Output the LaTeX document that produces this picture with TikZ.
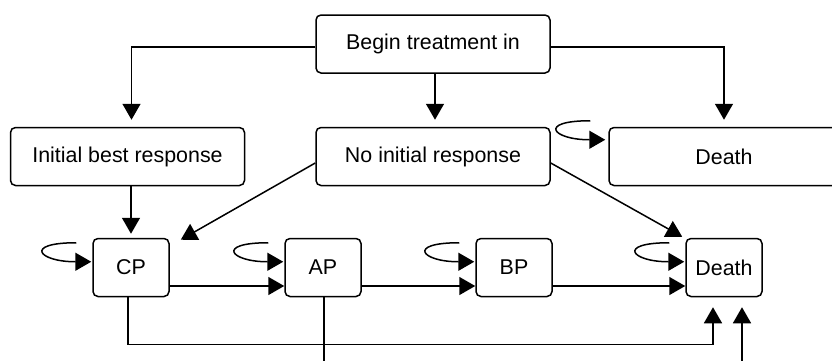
\documentclass[tikz,border=0pt]{standalone}
\usepackage{fontspec}
\setmainfont{Liberation Sans}
\usetikzlibrary{arrows.meta}

\begin{document}
\begin{tikzpicture}[x=0.5pt, y=-0.5pt, line width=0.75pt,
                    >={Triangle[length=8pt, width=9pt]},
                    every node/.style={font=\fontsize{10.7}{13}\selectfont},
                    state/.style={draw, rounded corners=2.5pt, minimum height=29pt, inner sep=0pt},
                    wide/.style={state, minimum width=117pt},
                    small/.style={state, minimum width=38pt},
                    selfloop/.style={->, looseness=1}]
  \useasboundingbox (0,0) rectangle (832,360);
  \clip (0,0) rectangle (832,360);

  \node[wide] (begin)    at (433,44)    {Begin treatment in};
  \node[wide] (init)     at (127.5,156.5) {Initial best response};
  \node[wide] (noinit)   at (433,156.5) {No initial response};
  \node[wide, minimum width=115pt] (deathtop) at (724,156.5) {Death};
  \node[small] (cp)    at (131,267.5) {CP};
  \node[small] (ap)    at (323,267.5) {AP};
  \node[small] (bp)    at (514,267.5) {BP};
  \node[small] (death) at (724,267.5) {Death};

  \coordinate (cpin)    at ([xshift=5.5pt, yshift=-1pt]cp.north east);
  \coordinate (deathin) at ([xshift=-1.5pt, yshift=0.5pt]death.north west);
  \coordinate (apout)   at ([xshift=0.5pt, yshift=-40pt]ap.south);
  \coordinate (below)   at ([xshift=9pt, yshift=-40pt]death.south);

  \draw[->, shorten >=3.5pt] ([yshift=-1.5pt]begin.west) -| ([xshift=2pt]init.north);
  \draw[->, shorten >=3.5pt] ([xshift=1pt]begin.south) -- ([xshift=1pt]noinit.north);
  \draw[->, shorten >=3.5pt] ([yshift=-1.5pt]begin.east) -| (deathtop.north);

  \draw[->, shorten >=2pt] (init.south -| cp.north) -- (cp.north);
  \draw[->] ([yshift=-3.25pt]noinit.west) -- (cpin);
  \draw[->] ([yshift=-3.25pt]noinit.east) -- (deathin);

  \draw[->] ([yshift=-9.25pt]cp.east) -- ([yshift=-9.25pt]ap.west);
  \draw[->] ([yshift=-9.25pt]ap.east) -- ([yshift=-9.25pt]bp.west);
  \draw[->] ([yshift=-9.25pt]bp.east) -- ([yshift=-9.25pt]death.west);

  \draw[selfloop] ([xshift=-8pt, yshift=-2.5pt]cp.north west) .. controls +(-26.5pt,0) and +(-26.5pt,0) .. ([xshift=-0.5pt, yshift=-12pt]cp.north west);
  \draw[selfloop] ([xshift=-8pt, yshift=-2.5pt]ap.north west) .. controls +(-26.5pt,0) and +(-26.5pt,0) .. ([xshift=-0.5pt, yshift=-12pt]ap.north west);
  \draw[selfloop] ([xshift=-8pt, yshift=-2.5pt]bp.north west) .. controls +(-26.5pt,0) and +(-26.5pt,0) .. ([xshift=-0.5pt, yshift=-12pt]bp.north west);
  \draw[selfloop] ([xshift=-8pt, yshift=-2.5pt]death.north west) .. controls +(-26.5pt,0) and +(-26.5pt,0) .. ([xshift=-0.5pt, yshift=-12pt]death.north west);
  \draw[selfloop] ([xshift=-9pt, yshift=3pt]deathtop.north west) .. controls +(-26.5pt,0) and +(-26.5pt,0) .. ([xshift=-1.5pt, yshift=-6.5pt]deathtop.north west);

  \draw[->, shorten >=5pt] ([xshift=-1.5pt]cp.south) -- ++(0,47) -| ([xshift=-5.5pt]death.south);
  \draw ([xshift=0.5pt]ap.south) -- (apout);
  \draw[->, shorten >=5pt] (below) -- ([xshift=9pt]death.south);
\end{tikzpicture}
\end{document}
